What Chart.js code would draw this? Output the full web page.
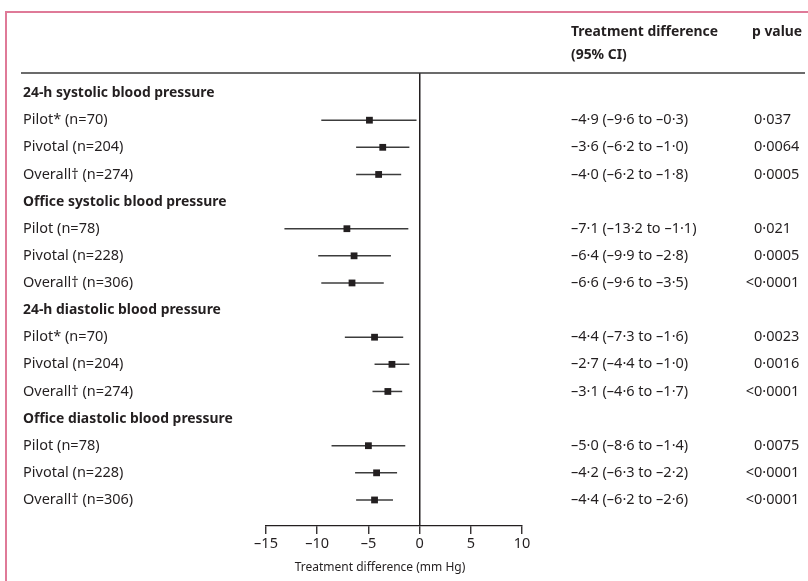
<!DOCTYPE html>
<html>
<head>
<meta charset="utf-8">
<script src="https://cdn.jsdelivr.net/npm/chart.js@4.4.1/dist/chart.umd.min.js"></script>
<style>
  body { margin: 0; background: #fff; }
  canvas { display: block; }
</style>
</head>
<body>
<canvas id="forest" width="808" height="581"></canvas>
<script>
// rows top to bottom: headings and subgroups share one row index
const headings = [
    '24-h systolic blood pressure',
    'Office systolic blood pressure',
    '24-h diastolic blood pressure',
    'Office diastolic blood pressure'
];
const subgroups = [
    'Pilot* (n=70)', 'Pivotal (n=204)', 'Overall\u2020 (n=274)',
    'Pilot (n=78)', 'Pivotal (n=228)', 'Overall\u2020 (n=306)',
    'Pilot* (n=70)', 'Pivotal (n=204)', 'Overall\u2020 (n=274)',
    'Pilot (n=78)', 'Pivotal (n=228)', 'Overall\u2020 (n=306)'
];
const estimates = [-4.9, -3.6, -4.0, -7.1, -6.4, -6.6, -4.4, -2.7, -3.1, -5.0, -4.2, -4.4];
const lower = [-9.6, -6.2, -6.2, -13.2, -9.9, -9.6, -7.3, -4.4, -4.6, -8.6, -6.3, -6.2];
const upper = [-0.3, -1.0, -1.8, -1.1, -2.8, -3.5, -1.6, -1.0, -1.7, -1.4, -2.2, -2.6];
const pValues = ['0\u00b7037', '0\u00b70064', '0\u00b70005', '0\u00b7021', '0\u00b70005', '<0\u00b70001',
    '0\u00b70023', '0\u00b70016', '<0\u00b70001', '0\u00b70075', '<0\u00b70001', '<0\u00b70001'];
const xTicks = [-15, -10, -5, 0, 5, 10];

const INK = '#231f20';
const FONT = '"Noto Sans", sans-serif';

// heading i sits on row 4*i, its subgroups on the next three rows
const headingRow = i => i * 4;
const subgroupRow = j => Math.floor(j / 3) * 4 + (j % 3) + 1;

// number like the journal prints it: en dash for minus, middle dot for decimal point
const fmt = v => (v < 0 ? '\u2013' : '') + Math.abs(v).toFixed(1).replace('.', '\u00b7');

const ciDatasets = estimates.map((e, j) => ({
    type: 'line',
    data: [{ x: lower[j], y: subgroupRow(j) }, { x: upper[j], y: subgroupRow(j) }],
    borderColor: '#3c3c3c',
    borderWidth: 1.5,
    pointRadius: 0,
    order: 2
}));

const pointDataset = {
    type: 'scatter',
    data: estimates.map((e, j) => ({ x: e, y: subgroupRow(j) })),
    pointStyle: 'rect',
    pointRadius: 4.8,
    backgroundColor: INK,
    borderColor: INK,
    borderWidth: 0,
    order: 1
};

const tablePlugin = {
    id: 'forestTable',
    afterDraw(chart) {
        const { ctx, scales: { y } } = chart;
        ctx.save();

        // pink frame of the figure panel
        ctx.strokeStyle = '#df7a98';
        ctx.lineWidth = 2;
        ctx.beginPath();
        ctx.moveTo(6, 581);
        ctx.lineTo(6, 12);
        ctx.lineTo(808, 12);
        ctx.stroke();

        // header rule
        ctx.strokeStyle = '#3a3a3a';
        ctx.lineWidth = 1.5;
        ctx.beginPath();
        ctx.moveTo(21, chart.chartArea.top);
        ctx.lineTo(805, chart.chartArea.top);
        ctx.stroke();

        ctx.fillStyle = INK;
        ctx.textBaseline = 'middle';
        ctx.textAlign = 'left';

        // column headers
        ctx.font = 'bold 13.9px ' + FONT;
        ctx.fillText('Treatment difference', 571, 32);
        ctx.fillText('(95% CI)', 571, 55);
        ctx.fillText('p value', 752, 32);

        headings.forEach((h, i) => {
            ctx.fillText(h, 23, y.getPixelForValue(headingRow(i)));
        });

        ctx.font = '14.5px ' + FONT;
        subgroups.forEach((s, j) => {
            const py = y.getPixelForValue(subgroupRow(j));
            ctx.textAlign = 'left';
            ctx.fillText(s, 23, py);
            ctx.fillText(fmt(estimates[j]) + ' (' + fmt(lower[j]) + ' to ' + fmt(upper[j]) + ')', 571, py);
            const p = pValues[j];
            let px = 754;
            if (p.startsWith('<')) px -= ctx.measureText('<').width;
            ctx.fillText(p, px, py);
        });

        // axis title
        ctx.font = '12px ' + FONT;
        ctx.textAlign = 'center';
        ctx.fillText('Treatment difference (mm Hg)', 380, 568);
        ctx.restore();
    }
};

new Chart(document.getElementById('forest'), {
    data: { datasets: [...ciDatasets, pointDataset] },
    options: {
        responsive: false,
        animation: false,
        layout: { padding: { left: 266, right: 286, top: 73, bottom: 25 } },
        plugins: { legend: { display: false }, tooltip: { enabled: false } },
        scales: {
            x: {
                type: 'linear',
                min: xTicks[0],
                max: xTicks[xTicks.length - 1],
                afterFit(scale) { scale.height = 30; },
                afterBuildTicks(scale) { scale.ticks = xTicks.map(v => ({ value: v })); },
                border: { display: true, color: INK, width: 1.3 },
                grid: {
                    color: c => (c.tick && c.tick.value === 0 ? INK : 'rgba(0,0,0,0)'),
                    lineWidth: 1.5,
                    tickColor: INK,
                    tickLength: 8,
                    tickWidth: 1.3
                },
                ticks: {
                    color: INK,
                    padding: 1,
                    autoSkip: false,
                    maxRotation: 0,
                    font: { family: FONT, size: 14.5 },
                    callback: v => (v < 0 ? '\u2013' + Math.abs(v) : String(v))
                }
            },
            y: {
                type: 'linear',
                display: false,
                reverse: true,
                min: -0.74,
                max: 15.96
            }
        }
    },
    plugins: [tablePlugin]
});
</script>
</body>
</html>
